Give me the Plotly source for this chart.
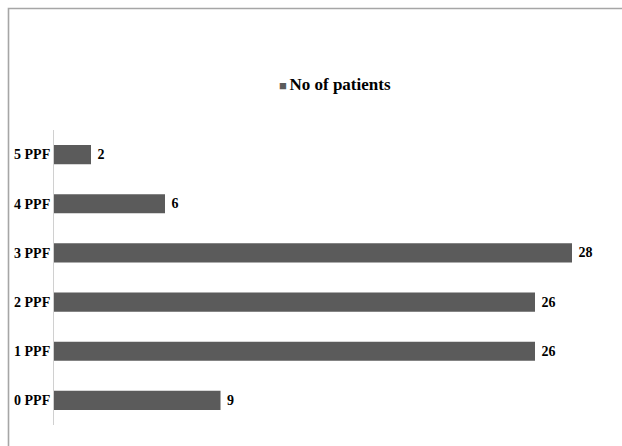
import plotly.graph_objects as go

# Number of patients by PPF count
categories = ["0 PPF", "1 PPF", "2 PPF", "3 PPF", "4 PPF", "5 PPF"]
patients = [9, 26, 26, 28, 6, 2]
series_name = "No of patients"

W, H = 622, 446
L, R, T, B = 54, 50, 130, 21
pw, ph = W - L - R, H - T - B

bar_color = "#5b5b5b"
serif = "'Liberation Serif', 'Times New Roman', Times, serif"

fig = go.Figure(
    go.Bar(
        y=categories,
        x=patients,
        orientation="h",
        marker=dict(color=bar_color, line=dict(width=0)),
        width=0.39,
        text=[f"&nbsp;<b>{v}</b>" for v in patients],
        textposition="outside",
        constraintext="none",
        textfont=dict(family=serif, size=14, color="#000000"),
        cliponaxis=False,
        showlegend=False,
        hoverinfo="skip",
    )
)


def px_x(x):
    return (x - L) / pw


def px_y(y):
    return (H - B - y) / ph


# Outer chart frame (left and top edges)
fig.add_shape(
    type="path",
    xref="paper", yref="paper",
    path=f"M {px_x(8.5)} {px_y(460)} L {px_x(8.5)} {px_y(8.5)} L {px_x(640)} {px_y(8.5)}",
    line=dict(color="#a6a6a6", width=1.6),
)

# Legend entry
fig.add_annotation(
    xref="paper", yref="paper",
    x=px_x(335), y=px_y(84),
    text=f"<span style='font-size:13px;color:{bar_color}'>■\u2009</span><b>{series_name}</b>",
    showarrow=False,
    font=dict(family=serif, size=17, color="#000000"),
    xanchor="center", yanchor="middle",
)

fig.update_layout(
    width=W, height=H,
    margin=dict(l=L, r=R, t=T, b=B),
    paper_bgcolor="white",
    plot_bgcolor="white",
    bargap=0.61,
    font=dict(family=serif),
    xaxis=dict(
        range=[0, 28],
        visible=False,
        showgrid=False,
        zeroline=False,
    ),
    yaxis=dict(
        categoryorder="array",
        categoryarray=categories,
        showline=True,
        linecolor="#d0d0d0",
        linewidth=1,
        showgrid=False,
        ticks="",
        ticklabelstandoff=0,
        tickfont=dict(family=serif, size=14, color="#000000"),
        tickprefix="<b>",
        ticksuffix="</b>",
    ),
)

fig.write_html("out.html")
